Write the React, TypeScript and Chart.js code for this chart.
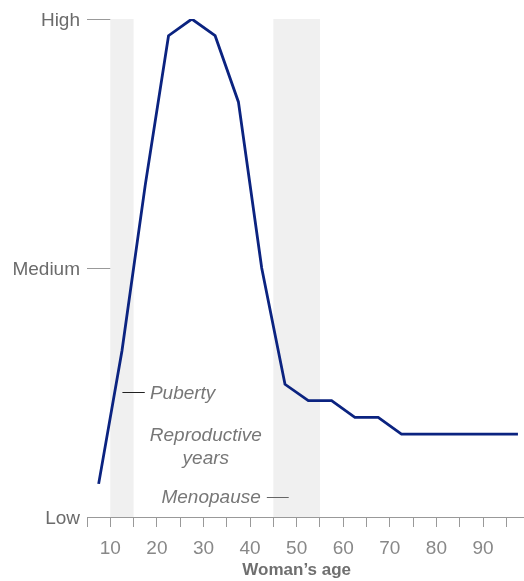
import React, { useEffect, useRef } from "react";
import { Chart, registerables } from "chart.js";

Chart.register(...registerables);

const ages = [7.5, 12.5, 17.5, 22.5, 27.5, 32.5, 37.5, 42.5, 47.5, 52.5, 57.5, 62.5, 67.5, 72.5, 77.5, 82.5, 87.5, 92.5, 97.5];
const fertility = [0.133, 0.667, 1.333, 1.933, 2, 1.933, 1.667, 1.0, 0.533, 0.467, 0.467, 0.4, 0.4, 0.333, 0.333, 0.333, 0.333, 0.333, 0.333];
const levelLabels = ["Low", "Medium", "High"];
const xLabelTicks = [10, 20, 30, 40, 50, 60, 70, 80, 90];
const bands = [
  [10, 15],
  [45, 55],
];
const axisTitle = "Woman’s age";

const FONT = "'Liberation Sans', Arial, sans-serif";

const decorPlugin = {
  id: "decor",
  beforeDatasetsDraw(chart: any) {
    const { ctx, scales } = chart;
    const x = scales.x;
    const y = scales.y;
    ctx.save();
    ctx.fillStyle = "#f0f0f0";
    for (const [a, b] of bands) {
      const x0 = x.getPixelForValue(a);
      const x1 = x.getPixelForValue(b);
      const y0 = y.getPixelForValue(2);
      const y1 = y.getPixelForValue(0);
      ctx.fillRect(x0, y0, x1 - x0, y1 - y0);
    }
    ctx.restore();
  },
  afterDraw(chart: any) {
    const { ctx, scales, chartArea } = chart;
    const x = scales.x;
    const y = scales.y;
    ctx.save();
    // y labels
    ctx.fillStyle = "#6b6b6b";
    ctx.font = `19px ${FONT}`;
    ctx.textAlign = "right";
    ctx.textBaseline = "middle";
    levelLabels.forEach((lab, i) => {
      ctx.fillText(lab, chartArea.left - 7, y.getPixelForValue(i) + 2);
    });
    // y dashes
    ctx.strokeStyle = "#999";
    ctx.lineWidth = 1;
    for (const v of [1, 2]) {
      const py = Math.round(y.getPixelForValue(v)) + 0.5;
      ctx.beginPath();
      ctx.moveTo(chartArea.left, py);
      ctx.lineTo(x.getPixelForValue(10), py);
      ctx.stroke();
    }
    // annotations
    ctx.fillStyle = "#777";
    ctx.font = `italic 19px ${FONT}`;
    ctx.textBaseline = "middle";
    // Puberty
    ctx.strokeStyle = "#222";
    let py = Math.round(y.getPixelForValue(0.502)) + 0.5;
    ctx.beginPath();
    ctx.moveTo(x.getPixelForValue(12.6), py);
    ctx.lineTo(x.getPixelForValue(17.4), py);
    ctx.stroke();
    ctx.textAlign = "left";
    ctx.fillText("Puberty", x.getPixelForValue(18.5), y.getPixelForValue(0.495));
    // Reproductive years
    ctx.textAlign = "center";
    ctx.fillText("Reproductive", x.getPixelForValue(30.5), y.getPixelForValue(0.325));
    ctx.fillText("years", x.getPixelForValue(30.5), y.getPixelForValue(0.233));
    // Menopause
    ctx.textAlign = "right";
    ctx.fillText("Menopause", x.getPixelForValue(42.3), y.getPixelForValue(0.078));
    ctx.strokeStyle = "#666";
    py = Math.round(y.getPixelForValue(0.08)) + 0.5;
    ctx.beginPath();
    ctx.moveTo(x.getPixelForValue(43.6), py);
    ctx.lineTo(x.getPixelForValue(48.3), py);
    ctx.stroke();
    // axis title
    ctx.fillStyle = "#6f6f6f";
    ctx.font = `bold 17px ${FONT}`;
    ctx.textAlign = "center";
    ctx.fillText(axisTitle, x.getPixelForValue(50), 570);
    ctx.restore();
  },
};

export default function App() {
  const ref = useRef<HTMLCanvasElement | null>(null);
  useEffect(() => {
    if (!ref.current) return;
    const chart = new Chart(ref.current, {
      type: "line",
      data: {
        datasets: [
          {
            data: ages.map((a, i) => ({ x: a, y: fertility[i] })),
            borderColor: "#0b2380",
            borderWidth: 2.8,
            pointRadius: 0,
            tension: 0,
            fill: false,
          },
        ],
      },
      options: {
        animation: false,
        responsive: false,
        devicePixelRatio: 1,
        layout: { padding: { top: 19, left: 0, right: 0, bottom: 0 } },
        plugins: { legend: { display: false }, tooltip: { enabled: false } },
        scales: {
          x: {
            type: "linear",
            min: 5,
            max: 98.8,
            afterFit: (s: any) => {
              s.height = 64;
            },
            grid: {
              display: true,
              drawOnChartArea: false,
              drawTicks: true,
              tickLength: 10,
              color: "#999",
            },
            border: { display: true, color: "#999", width: 1 },
            ticks: {
              stepSize: 5,
              includeBounds: false,
              autoSkip: false,
              maxRotation: 0,
              padding: 10,
              color: "#888",
              font: { family: FONT, size: 19 },
              callback: (v: any) => (xLabelTicks.includes(Number(v)) ? String(v) : ""),
            },
          },
          y: {
            min: 0,
            max: 2,
            afterFit: (s: any) => {
              s.width = 87;
            },
            grid: { display: false, drawTicks: false },
            border: { display: false },
            ticks: {
              display: false,
              stepSize: 1,
            },
          },
        },
      },
      plugins: [decorPlugin],
    });
    return () => chart.destroy();
  }, []);
  return (
    <div style={{ position: "fixed", left: 0, top: 0, width: 524, height: 581, background: "#fff" }}>
      <canvas ref={ref} width={524} height={581} style={{ display: "block", width: 524, height: 581 }} />
    </div>
  );
}
